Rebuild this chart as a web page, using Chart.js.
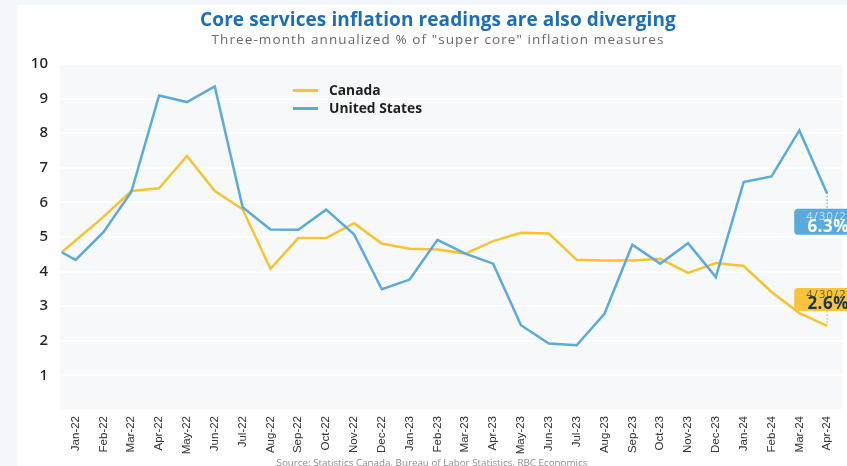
<!DOCTYPE html>
<html>
<head>
<meta charset="utf-8">
<script src="https://cdn.jsdelivr.net/npm/chart.js@4.4.1/dist/chart.umd.min.js"></script>
<style>
  html, body { margin: 0; padding: 0; background: #f3f6fa; }
  #wrap { position: absolute; left: 0; top: 0; width: 847px; height: 466px; overflow: hidden; }
  #panel { position: absolute; left: 17px; top: 5px; width: 830px; height: 461px; background: #ffffff; }
  #c { position: absolute; left: 0; top: 0; }
  .t { position: absolute; left: 0; width: 876px; text-align: center; white-space: nowrap; font-family: "Open Sans", sans-serif; }
  #title { top: 9px; font-size: 19px; line-height: 20px; font-weight: 700; color: #1d6db8; letter-spacing: 0.1px; }
  #subtitle { top: 31px; font-size: 13.5px; line-height: 16px; font-weight: 400; color: #6a6a6a; letter-spacing: 1.1px; }
  #source { top: 456px; left: 0; width: 864px; font-size: 9.8px; line-height: 14px; color: #8c8c8c; }
  #legend { position: absolute; left: 293px; top: 81px; font-family: "Open Sans", sans-serif; }
  .li { position: relative; height: 18px; }
  .li span.sw { position: absolute; left: 0; top: 8px; width: 25px; height: 2.5px; }
  .li span.tx { position: absolute; left: 36px; top: 0px; font-size: 13.8px; font-weight: 700; color: #222; line-height: 18px; white-space: nowrap; }
</style>
</head>
<body>
<div id="wrap">
  <div id="panel"></div>
  <canvas id="c" width="847" height="466"></canvas>
  <div id="title" class="t">Core services inflation readings are also diverging</div>
  <div id="subtitle" class="t">Three-month annualized % of "super core" inflation measures</div>
  <div id="legend"></div>
  <div id="source" class="t">Source: Statistics Canada, Bureau of Labor Statistics, RBC Economics</div>
</div>
<script>
// ---- data ----
const months = ['Jan-22','Feb-22','Mar-22','Apr-22','May-22','Jun-22','Jul-22','Aug-22','Sep-22','Oct-22','Nov-22','Dec-22',
                'Jan-23','Feb-23','Mar-23','Apr-23','May-23','Jun-23','Jul-23','Aug-23','Sep-23','Oct-23','Nov-23','Dec-23',
                'Jan-24','Feb-24','Mar-24','Apr-24'];
const canada = [4.90,5.58,6.33,6.41,7.34,6.33,5.80,4.08,4.97,4.97,5.40,4.81,
                4.66,4.64,4.52,4.88,5.12,5.10,4.34,4.32,4.32,4.37,3.96,4.25,
                4.16,3.41,2.80,2.43];
const unitedStates = [4.34,5.14,6.30,9.09,8.90,9.35,5.86,5.22,5.21,5.79,5.08,3.49,
                      3.77,4.92,4.52,4.23,2.45,1.92,1.87,2.78,4.78,4.23,4.82,3.84,
                      6.59,6.75,8.08,6.25];
// value where each line enters the plot (half a month before Jan-22)
const startPosition = -0.5;
const canadaStart = 4.56;
const unitedStatesStart = 4.56;
const seriesNames = ['Canada', 'United States'];
const endDates = ['4/30/24', '4/30/24'];
const endValues = ['2.6%', '6.3%'];
const yTicks = [1,2,3,4,5,6,7,8,9,10];

const CAN_COLOR = '#f7c331';
const US_COLOR = '#5aaadd';

function toPoints(start, arr) {
  return [{x: startPosition, y: start}].concat(arr.map((v, i) => ({x: i, y: v})));
}

const plotBg = {
  id: 'plotBg',
  beforeDraw(chart) {
    const {ctx, chartArea: a} = chart;
    ctx.save();
    ctx.fillStyle = '#f7f8fa';
    ctx.fillRect(a.left, a.top, a.right - a.left, a.bottom - a.top);
    ctx.restore();
  }
};

function roundRect(ctx, x, y, w, h, r) {
  ctx.beginPath();
  ctx.moveTo(x + r, y);
  ctx.lineTo(x + w - r, y);
  ctx.quadraticCurveTo(x + w, y, x + w, y + r);
  ctx.lineTo(x + w, y + h - r);
  ctx.quadraticCurveTo(x + w, y + h, x + w - r, y + h);
  ctx.lineTo(x + r, y + h);
  ctx.quadraticCurveTo(x, y + h, x, y + h - r);
  ctx.lineTo(x, y + r);
  ctx.quadraticCurveTo(x, y, x + r, y);
  ctx.closePath();
}

const endNotes = {
  id: 'endNotes',
  afterDatasetsDraw(chart) {
    const ctx = chart.ctx;
    chart.data.datasets.forEach((ds, i) => {
      const meta = chart.getDatasetMeta(i);
      const pt = meta.data[meta.data.length - 1];
      const w = 66, h = ds.noteBox.h, gap = 15;
      const x0 = pt.x - w / 2;
      let y0, lineFrom, lineTo;
      if (ds.noteBox.side === 'below') {
        y0 = pt.y + gap; lineFrom = pt.y + 2; lineTo = y0;
      } else {
        y0 = pt.y - gap - h; lineFrom = y0 + h; lineTo = pt.y - 2;
      }
      ctx.save();
      ctx.strokeStyle = ds.noteBox.dot;
      ctx.lineWidth = 1.5;
      ctx.setLineDash([1.5, 2]);
      ctx.beginPath();
      ctx.moveTo(pt.x, lineFrom);
      ctx.lineTo(pt.x, lineTo);
      ctx.stroke();
      ctx.setLineDash([]);
      ctx.fillStyle = ds.noteBox.fill;
      roundRect(ctx, x0, y0, w, h, 4);
      ctx.fill();
      ctx.textAlign = 'center';
      ctx.textBaseline = 'middle';
      ctx.fillStyle = ds.noteBox.dateColor;
      ctx.font = '400 11px "Open Sans", sans-serif';
      if ('letterSpacing' in ctx) ctx.letterSpacing = '1.2px';
      ctx.fillText(endDates[i], pt.x + 3, y0 + h * 0.3);
      if ('letterSpacing' in ctx) ctx.letterSpacing = '0.5px';
      ctx.fillStyle = ds.noteBox.valueColor;
      ctx.font = '700 17px "Open Sans", sans-serif';
      ctx.fillText(endValues[i], pt.x + 1, y0 + h * 0.7);
      ctx.restore();
    });
  }
};

const chart = new Chart(document.getElementById('c'), {
  type: 'line',
  data: {
    datasets: [
      {
        label: seriesNames[0],
        data: toPoints(canadaStart, canada),
        borderColor: CAN_COLOR,
        backgroundColor: CAN_COLOR,
        borderWidth: 2.5,
        pointRadius: 0,
        tension: 0,
        order: 1,
        noteBox: {side: 'above', h: 23, fill: '#f8c53a', dot: '#f3c64a', dateColor: '#5f5a45', valueColor: '#1f3346'}
      },
      {
        label: seriesNames[1],
        data: toPoints(unitedStatesStart, unitedStates),
        borderColor: US_COLOR,
        backgroundColor: US_COLOR,
        borderWidth: 2.5,
        pointRadius: 0,
        tension: 0,
        order: 0,
        noteBox: {side: 'below', h: 26, fill: '#5aaadd', dot: '#8cc4e8', dateColor: '#cfe4f5', valueColor: '#ffffff'}
      }
    ]
  },
  options: {
    responsive: false,
    animation: false,
    devicePixelRatio: 1,
    layout: { padding: { top: 64, right: 0, bottom: 0, left: 0 } },
    plugins: {
      legend: { display: false },
      tooltip: { enabled: false },
      title: { display: false }
    },
    scales: {
      x: {
        type: 'linear',
        min: -0.56,
        max: 27.55,
        grid: { display: false, drawTicks: false },
        border: { display: false },
        afterBuildTicks(scale) { scale.ticks = months.map((_, i) => ({value: i})); },
        afterFit(scale) { scale.height = 56; },
        ticks: {
          autoSkip: false,
          minRotation: 90,
          maxRotation: 90,
          padding: 6,
          color: '#333',
          font: { family: '"Liberation Sans Narrow", "Liberation Sans", sans-serif', size: 11.5 },
          callback: (v) => months[v] ?? ''
        }
      },
      y: {
        min: 0,
        max: 10,
        afterBuildTicks(scale) { scale.ticks = [{value: 0}].concat(yTicks.map(v => ({value: v}))); },
        afterFit(scale) { scale.width = 60; },
        grid: { color: '#ffffff', lineWidth: 2, drawTicks: false },
        border: { display: false },
        ticks: {
          padding: 12,
          color: '#222',
          font: { family: '"Noto Sans", sans-serif', size: 15, weight: '500' },
          callback: (v) => v === 0 ? '' : String(v)
        }
      }
    }
  },
  plugins: [plotBg, endNotes]
});

// HTML legend built from the datasets
const legend = document.getElementById('legend');
chart.data.datasets.forEach(ds => {
  const row = document.createElement('div');
  row.className = 'li';
  const sw = document.createElement('span');
  sw.className = 'sw';
  sw.style.background = ds.borderColor;
  const tx = document.createElement('span');
  tx.className = 'tx';
  tx.textContent = ds.label;
  row.appendChild(sw); row.appendChild(tx);
  legend.appendChild(row);
});
</script>
</body>
</html>
